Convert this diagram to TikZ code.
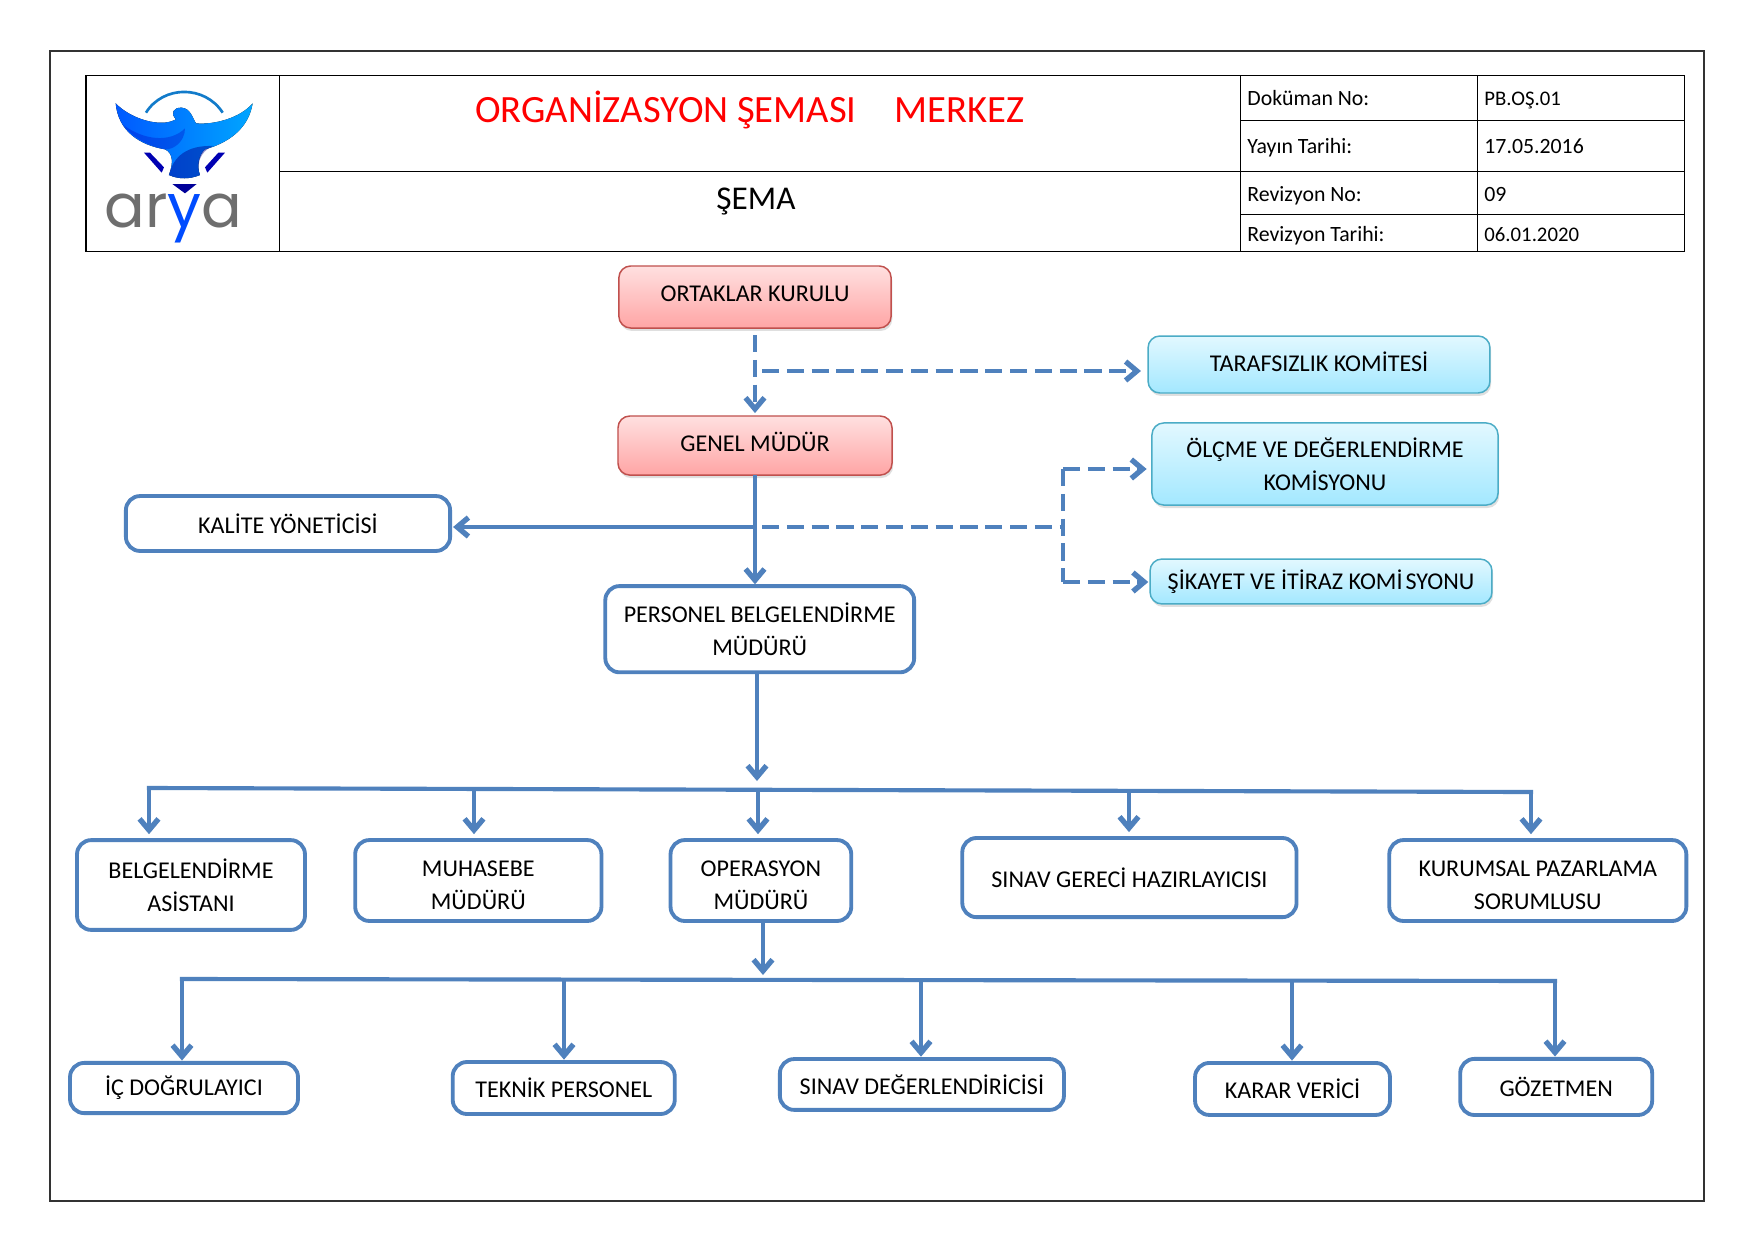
\documentclass[tikz,border=0pt]{standalone}
\usepackage{fontspec}
\setmainfont{Carlito}
\newfontfamily\logofont{Poppins}
\usepackage{xcolor}
\usetikzlibrary{arrows.meta,positioning,calc,shadows}
\definecolor{linkblue}{RGB}{79,129,189}
\definecolor{redrim}{RGB}{192,80,77}
\definecolor{redtop}{RGB}{255,224,224}
\definecolor{redbot}{RGB}{255,165,165}
\definecolor{cyanrim}{RGB}{75,172,198}
\definecolor{cyantop}{RGB}{226,248,255}
\definecolor{cyanbot}{RGB}{163,232,255}
\definecolor{logogray}{RGB}{110,110,110}
\newcommand{\droptext}{\rule{0pt}{4.2mm}}
\begin{document}
\begin{tikzpicture}[x=0.16933mm,y=-0.16933mm,
  box/.style={draw=linkblue,line width=0.65mm,rounded corners=2.4mm,align=center,font=\fontsize{11.6}{15.8}\selectfont,fill=white,inner sep=0pt,outer sep=0pt},
  redbox/.style={box,draw=redrim,line width=0.25mm,rounded corners=2mm,top color=redtop,bottom color=redbot,drop shadow={shadow xshift=0.2mm,shadow yshift=-0.5mm,opacity=.25}},
  cyanbox/.style={box,draw=cyanrim,line width=0.25mm,rounded corners=2mm,top color=cyantop,bottom color=cyanbot,drop shadow={shadow xshift=0.2mm,shadow yshift=-0.5mm,opacity=.25}},
  cell/.style={anchor=base west,font=\fontsize{10.5}{12}\selectfont,inner sep=0pt},
  arr/.style={-{Straight Barb[length=1.9mm,width=3.2mm,line width=0.9mm]},draw=linkblue,line width=0.7mm},
  dasharr/.style={arr,dash pattern=on 2.9mm off 1.3mm},
  rule/.style={draw=linkblue,line width=0.7mm},
  dashrule/.style={rule,dash pattern=on 2.9mm off 1.3mm}]
\useasboundingbox (0,0) rectangle (1754,1241);
\fill[white] (0,0) rectangle (1754,1241);
\draw[black!80,line width=0.25mm] (50,51) rectangle (1704,1201);
\draw[black,line width=0.17mm] (86,75) rectangle (1684,251);
\draw[black,line width=0.17mm] (279,75) -- (279,251) (1240,75) -- (1240,251) (1477,75) -- (1477,251);
\draw[black,line width=0.17mm] (279,171) -- (1684,171) (1240,120) -- (1684,120) (1240,214) -- (1684,214);
\node[red,font=\fontsize{18.6}{20}\selectfont,inner sep=0pt] (title) at (750,110) {ORGANİZASYON ŞEMASI\hspace{6.5mm}MERKEZ};
\node[font=\fontsize{16}{18}\selectfont,inner sep=0pt] (sema) at (756,202) {ŞEMA};
\node[cell] (docl) at (1247,105) {Doküman No:};
\node[cell,font=\fontsize{10}{12}\selectfont] (docv) at (1484,105) {PB.OŞ.01};
\node[cell] (yayl) at (1247,153) {Yayın Tarihi:};
\node[cell] (yayv) at (1484,153) {17.05.2016};
\node[cell] (revl) at (1247,201) {Revizyon No:};
\node[cell] (revv) at (1484,201) {09};
\node[cell] (rtl) at (1247,241) {Revizyon Tarihi:};
\node[cell,font=\fontsize{10}{12}\selectfont] (rtv) at (1484,241) {06.01.2020};
\begin{scope}[shift={(70,60)},x=0.05644mm,y=-0.05644mm]
\draw[line width=0.45mm,color=cyan!60!blue] (228,158) .. controls (280,75) and (405,75) .. (458,158);
\fill[left color=blue!65!cyan,right color=cyan!65!blue] (137,130) .. controls (180,175) and (270,205) .. (318,178) .. controls (300,160) and (310,142) .. (335,143) .. controls (362,145) and (368,175) .. (378,190) .. controls (430,195) and (510,175) .. (548,130) .. controls (535,210) and (470,250) .. (405,268) .. controls (385,285) and (380,320) .. (390,345) .. controls (360,358) and (325,358) .. (297,345) .. controls (310,310) and (310,280) .. (285,268) .. controls (210,255) and (145,215) .. (137,130) -- cycle;
\fill[blue!55!black,opacity=.45] (297,345) .. controls (310,290) and (350,255) .. (430,258) .. controls (385,275) and (380,320) .. (390,345) .. controls (360,358) and (325,358) .. (297,345) -- cycle;
\fill[blue!75!black,opacity=.3] (160,195) .. controls (220,240) and (300,250) .. (345,205) .. controls (345,245) and (310,270) .. (285,268) .. controls (240,260) and (190,235) .. (160,195) -- cycle;
\fill[blue!70!black] (222,278) -- (240,278) -- (282,322) -- (275,338) -- cycle;
\fill[blue!70!black] (465,278) -- (445,278) -- (405,322) -- (412,338) -- cycle;
\fill[blue!60!black] (307,372) -- (380,372) -- (345,400) -- cycle;
\node[anchor=base,font=\logofont\fontsize{29}{30}\selectfont,text=logogray,inner sep=0pt] (logo) at (310,503) {ar{\color{blue!70!cyan}y}a};
\end{scope}
\node[redbox,minimum width=46.1mm,minimum height=10.5mm] (ortaklar) at (755,297) {\raisebox{1.2mm}{ORTAKLAR KURULU}};
\node[redbox,minimum width=46.4mm,minimum height=10mm,below=14.9mm of ortaklar] (genel) {\raisebox{1.3mm}{GENEL MÜDÜR}};
\node[box,minimum width=52.3mm,minimum height=14.6mm,below=18.8mm of genel,xshift=0.8mm] (personel) {PERSONEL BELGELENDİRME\\MÜDÜRÜ};
\node[box,minimum width=54.9mm,minimum height=9.3mm] (kalite) at (288,523.5) {KALİTE YÖNETİCİSİ};
\node[cyanbox,minimum width=57.9mm,minimum height=9.65mm] (tarafsiz) at (1319,364.5) {\raisebox{0.9mm}{TARAFSIZLIK KOMİTESİ}};
\node[cyanbox,minimum width=58.6mm,minimum height=13.9mm] (olcme) at (1325,464) {ÖLÇME VE DEĞERLENDİRME\\KOMİSYONU};
\node[cyanbox,minimum width=57.9mm,minimum height=7.6mm] (sikayet) at (1321,581.5) {ŞİKAYET VE İTİRAZ KOMİ\kern0.5mm SYONU};
\node[box,minimum width=38.6mm,minimum height=15.2mm] (belge) at (191,885) {BELGELENDİRME\\ASİSTANI};
\node[box,minimum width=41.7mm,minimum height=13.7mm,right=8.5mm of belge,yshift=0.76mm] (muhasebe) {\droptext MUHASEBE\\MÜDÜRÜ};
\node[box,minimum width=30.6mm,minimum height=13.7mm,right=11.7mm of muhasebe] (operasyon) {\droptext OPERASYON\\MÜDÜRÜ};
\node[box,minimum width=56.6mm,minimum height=13.4mm,right=18.8mm of operasyon,yshift=0.5mm] (gerec) {SINAV GERECİ HAZIRLAYICISI};
\node[box,minimum width=50.3mm,minimum height=13.7mm,right=15.7mm of gerec,yshift=-0.5mm] (kurumsal) {\droptext KURUMSAL PAZARLAMA\\SORUMLUSU};
\node[box,minimum width=38.6mm,minimum height=8.5mm] (icdog) at (184,1088) {İÇ DOĞRULAYICI};
\node[box,minimum width=37.6mm,minimum height=8.8mm,right=26.2mm of icdog] (teknik) {TEKNİK PERSONEL};
\node[box,minimum width=48.1mm,minimum height=8.6mm,right=17.8mm of teknik,yshift=0.6mm] (degerl) {SINAV DEĞERLENDİRİCİSİ};
\node[box,minimum width=33mm,minimum height=8.8mm,right=22.2mm of degerl,yshift=-0.76mm] (karar) {KARAR VERİCİ};
\node[box,minimum width=32.5mm,minimum height=9.5mm,right=11.9mm of karar,yshift=0.34mm] (gozetmen) {GÖZETMEN};
\coordinate (tbranch) at (762,371);
\coordinate (kbranch) at (756,527);
\coordinate (dbranch) at (762,527);
\coordinate (dfork) at (1063,527);
\coordinate (dtop) at (1063,469);
\coordinate (dbot) at (1063,582);
\coordinate (busa) at (149,788);
\coordinate (busb) at (1531,792);
\coordinate (busaa) at (474,789);
\coordinate (busac) at (758,790);
\coordinate (busad) at (1129,791);
\coordinate (pdrop) at (757,781);
\coordinate (busc) at (182,979);
\coordinate (busd) at (1555,981);
\coordinate (buscb) at (564,980);
\coordinate (buscc) at (921,980);
\coordinate (buscd) at (1292,980);
\coordinate (odrop) at (763,975);
\draw[dasharr,shorten <=1.2mm,shorten >=0.5mm] (ortaklar.south) -- (ortaklar.south |- genel.north);
\draw[dasharr,shorten >=1.2mm] (tbranch) -- (tbranch -| tarafsiz.west);
\draw[arr,shorten >=0.3mm] (genel.south) -- (genel.south |- personel.north);
\draw[arr,shorten >=0.5mm] (kbranch) -- (kbranch -| kalite.east);
\draw[dashrule] (dbranch) -- (dfork);
\draw[dashrule] (dtop) -- (dbot);
\draw[dasharr,shorten >=0.9mm] (dtop) -- (dtop -| olcme.west);
\draw[dasharr,shorten >=0.3mm] (dbot) -- (dbot -| sikayet.west);
\draw[arr] (personel.south -| pdrop) -- (pdrop);
\draw[rule,line cap=rect] (busa) -- (busb);
\draw[arr,shorten >=1mm] (busa) -- (busa |- belge.north);
\draw[arr,shorten >=1mm] (busaa) -- (busaa |- muhasebe.north);
\draw[arr,shorten >=1mm] (busac) -- (busac |- operasyon.north);
\draw[arr,shorten >=1mm] (busad) -- (busad |- gerec.north);
\draw[arr,shorten >=1mm] (busb) -- (busb |- kurumsal.north);
\draw[arr] (operasyon.south -| odrop) -- (odrop);
\draw[rule,line cap=rect] (busc) -- (busd);
\draw[arr,shorten >=0.4mm] (busc) -- (busc |- icdog.north);
\draw[arr,shorten >=0.4mm] (buscb) -- (buscb |- teknik.north);
\draw[arr,shorten >=0.4mm] (buscc) -- (buscc |- degerl.north);
\draw[arr,shorten >=0.4mm] (buscd) -- (buscd |- karar.north);
\draw[arr,shorten >=0.4mm] (busd) -- (busd |- gozetmen.north);
\end{tikzpicture}
\end{document}
